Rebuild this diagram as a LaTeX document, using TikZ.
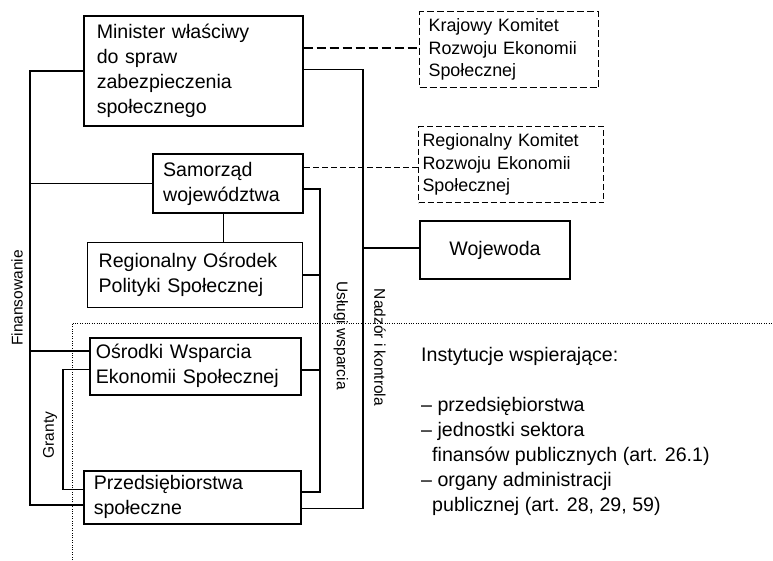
\documentclass[tikz,border=0pt]{standalone}
\usepackage{fontspec}
\setmainfont{Liberation Sans}
\usetikzlibrary{positioning}
\newcommand{\bigtxt}{\fontsize{19.6pt}{25pt}\selectfont}
\newcommand{\smalltxt}{\fontsize{17.9pt}{22.3pt}\selectfont}
\newcommand{\lbltxt}{\fontsize{15.5pt}{18pt}\selectfont}

\begin{document}
\begin{tikzpicture}[
  x=1pt, y=-1pt,
  box/.style={rectangle, draw, inner sep=0pt, anchor=north west, align=left,
              font=\bigtxt, line width=1.5pt},
  heavybox/.style={box, line width=2.3pt},
  dashbox/.style={box, font=\smalltxt, line width=1.2pt, dash pattern=on 7pt off 3pt},
  conn/.style={line width=1.5pt},
  heavyconn/.style={line width=2.3pt},
  thinconn/.style={line width=0.9pt},
  dashconn/.style={line width=1.8pt, dash pattern=on 9pt off 4pt},
  lbl/.style={font=\lbltxt, inner sep=0pt},
]
\useasboundingbox (0,0) rectangle (773,560);

% Boxes
\node[box, minimum width=219pt, minimum height=110pt, text width=193pt] (min) at (83,15)
  {Minister właściwy\\do spraw\\zabezpieczenia\\społecznego};
\node[heavybox, minimum width=150pt, minimum height=59pt, text width=130pt] (sam) at (152,153)
  {Samorząd\\województwa};
\node[box, line width=1.3pt, minimum width=215pt, minimum height=65pt, text width=193pt] (rops) at (87,242)
  {Regionalny Ośrodek\\Polityki Społecznej};
\node[box, minimum width=211pt, minimum height=57pt, text width=199pt] (osr) at (89,337)
  {Ośrodki Wsparcia\\Ekonomii Społecznej};
\node[box, minimum width=217pt, minimum height=53pt, text width=197pt] (prz) at (83,470)
  {Przedsiębiorstwa\\społeczne};

% Committees and voivode
\node[dashbox, minimum width=179pt, minimum height=76pt, text width=161pt] (kraj) at (419,11)
  {Krajowy Komitet\\Rozwoju Ekonomii\\Społecznej};
\node[dashbox, line width=1pt, dash pattern=on 6pt off 3pt, minimum width=185pt,
      minimum height=76pt, text width=177pt] (rkom) at (418,126)
  {Regionalny Komitet\\Rozwoju Ekonomii\\Społecznej};
\node[heavybox, line width=2pt, align=center, minimum width=150pt, minimum height=58pt] (woj) at (419,220)
  {Wojewoda};

% Supporting institutions
\node[anchor=north west, align=left, font=\bigtxt, inner sep=0pt] (inst) at (421,347)
  {Instytucje wspierające:\\[25pt]
   – przedsiębiorstwa\\
   – jednostki sektora\\
   \hspace*{11pt}finansów publicznych (art. 26.1)\\
   – organy administracji\\
   \hspace*{11pt}publicznej (art. 28, 29, 59)};

% Trunk lines
\coordinate (finx) at (30,0);
\coordinate (grx) at (63,0);
\coordinate (usx) at (320,0);
\coordinate (nadx) at (363,0);

% Finansowanie
\coordinate (prz-fin) at ([yshift=-7.5pt]prz.west);
\coordinate (osr-fin) at ([yshift=15.5pt]osr.west);
\draw[conn] (min.west) -- (min.west -| finx) -- (prz-fin -| finx) -- (prz-fin);
\draw[conn] (sam.west) -- (sam.west -| finx);
\draw[conn] (osr-fin) -- (osr-fin -| finx);
\node[lbl, rotate=90] (fin) at (17,298) {Finansowanie};

% Granty
\coordinate (osr-gr) at ([yshift=-3.5pt]osr.west);
\coordinate (prz-gr) at ([yshift=7.5pt]prz.west);
\draw[thinconn, line width=1.2pt] (osr-gr) -- (osr-gr -| grx) -- (prz-gr -| grx) -- (prz-gr);
\node[lbl, rotate=90] (gr) at (50,435) {Granty};

% Uslugi wsparcia
\coordinate (sam-us) at ([yshift=-5.5pt]sam.east);
\coordinate (osr-us) at ([yshift=-3.5pt]osr.east);
\coordinate (prz-us) at ([yshift=5.5pt]prz.east);
\draw[heavyconn] (sam-us) -- (sam-us -| usx) -- (prz-us -| usx) -- (prz-us);
\draw[heavyconn] (rops.east) -- (rops.east -| usx);
\draw[heavyconn] (osr-us) -- (osr-us -| usx);
\node[lbl, rotate=-90] (us) at (341,335.5) {Usługi wsparcia};

% Nadzor i kontrola
\coordinate (min-nad) at ([yshift=1pt]min.east);
\coordinate (prz-nad) at ([yshift=-11.5pt]prz.east);
\coordinate (woj-nad) at ([yshift=2pt]woj.west);
\draw[thinconn, line width=1.3pt] (min-nad) -- (min-nad -| nadx) -- (prz-nad -| nadx) -- (prz-nad);
\draw[conn, line width=1.8pt] (woj-nad) -- (woj-nad -| nadx);
\node[lbl, rotate=-90] (nad) at (380,347.5) {Nadzór i kontrola};

% Committees
\coordinate (min-kr) at ([yshift=23pt]min.east);
\draw[dashconn] (min-kr) -- (min-kr -| kraj.west);
\coordinate (sam-rk) at ([yshift=16.5pt]sam.east);
\draw[thinconn, dash pattern=on 6pt off 3pt] (sam-rk) -- (sam-rk -| rkom.west);
\draw[thinconn] ([xshift=-5pt]sam.south) -- ([xshift=-5pt]sam.south |- rops.north);

% Dotted border
\draw[line width=0.8pt, dash pattern=on 1pt off 1.4pt] (72,560) -- (72,323) -- (773,323);

\end{tikzpicture}
\end{document}
